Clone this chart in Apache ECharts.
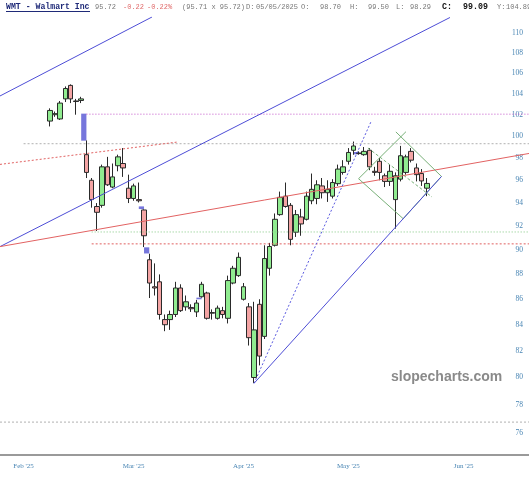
<!DOCTYPE html>
<html><head><meta charset="utf-8">
<script src="https://cdn.jsdelivr.net/npm/echarts@6/dist/echarts.min.js"></script>
<style>html,body{margin:0;padding:0;background:#fff}#c{width:529px;height:480px}</style>
</head><body><div id="c"></div>
<script>
// ---- categories (trading days) ----
const padBefore = ['01-28','01-29','01-30','01-31','02-03','02-04','02-05','02-06','02-07'];
const tradeDates = ['02-10','02-11','02-12','02-13','02-14','02-18','02-19','02-20','02-21','02-24','02-25','02-26','02-27','02-28',
 '03-03','03-04','03-05','03-06','03-07','03-10','03-11','03-12','03-13','03-14','03-17','03-18','03-19','03-20','03-21','03-24','03-25','03-26','03-27','03-28','03-31',
 '04-01','04-02','04-03','04-04','04-07','04-08','04-09','04-10','04-11','04-14','04-15','04-16','04-17','04-21','04-22','04-23','04-24','04-25','04-28','04-29','04-30',
 '05-01','05-02','05-05','05-06','05-07','05-08','05-09','05-12','05-13','05-14','05-15','05-16','05-19','05-20','05-21','05-22','05-23'];
const padAfter = ['05-27','05-28','05-29','05-30','06-02','06-03','06-04','06-05','06-06','06-09','06-10','06-11','06-12','06-13','06-16','06-17','06-18','06-20','06-23'];

// ---- OHLC ----
const opens  = [101.4,102.0,101.6,103.5,104.8,103.3,103.35,98.3,96.0,93.7,93.8,97.2,95.4,97.3,
 97.5,95.3,94.4,94.3,93.4,89.2,87.0,87.4,84.4,84.4,84.8,86.9,85.4,85.35,85.0,86.2,86.5,84.9,84.5,85.1,84.5,
 87.3,87.9,86.0,85.4,80.0,85.6,83.1,88.5,90.4,93.0,94.6,93.8,91.5,92.8,92.6,94.2,94.4,95.5,94.9,94.6,95.7,
 96.7,97.7,98.70,98.45,98.3,98.7,96.8,97.7,96.4,95.9,94.3,96.1,96.7,98.6,97.1,96.6,95.3];
const closes = [102.4,102.1,103.1,104.5,103.5,103.25,103.5,96.7,94.3,93.2,97.2,95.6,96.3,98.1,
 97.1,94.4,95.5,94.2,91.2,87.3,86.9,84.8,84.0,84.8,86.9,85.1,85.8,85.25,85.7,87.2,84.5,84.95,85.3,84.8,87.5,
 88.5,89.4,87.0,83.0,83.6,81.6,89.3,90.3,92.6,94.5,93.7,90.9,93.0,92.2,94.6,95.2,95.6,94.9,95.2,95.8,97.0,
 97.2,98.5,99.09,98.4,98.6,97.2,96.7,96.7,95.9,96.8,96.4,98.2,98.1,97.8,96.5,95.94,95.72];
const lows   = [100.9,101.8,101.5,103.2,103.1,102.0,103.1,96.2,93.6,91.6,93.6,95.5,95.3,96.8,
 96.3,94.0,94.2,94.05,90.25,86.1,86.3,84.4,83.5,83.6,84.6,85.0,85.1,85.0,84.6,86.13,84.4,84.4,84.4,84.5,84.1,
 87.2,87.8,85.9,82.4,79.6,80.9,82.9,87.9,90.3,92.9,93.6,90.4,91.1,91.2,92.5,93.9,93.9,94.4,94.1,94.4,95.5,
 96.5,97.4,98.29,98.3,98.2,96.9,96.4,96.0,95.4,95.5,91.8,95.9,96.5,97.6,95.9,95.5,94.6];
const highs  = [102.6,102.3,103.3,104.7,104.9,103.5,103.7,99.6,96.2,94.0,97.4,98.1,97.5,98.3,
 98.9,96.5,95.7,95.8,93.45,89.7,88.9,88.0,84.8,85.1,87.4,87.2,86.3,85.6,85.95,87.4,86.6,85.2,85.5,85.4,87.9,
 88.7,89.8,87.3,85.7,85.8,86.0,90.4,90.6,93.1,95.0,95.8,94.0,93.4,93.5,95.0,96.6,96.0,96.2,96.0,96.1,97.4,
 97.8,98.9,99.50,98.6,99.0,98.9,97.2,98.0,96.6,97.4,96.7,99.1,98.3,98.9,97.5,97.0,96.2];

// ---- unfilled gaps ----
const gapFromDates = ['02-19','03-06','03-07','03-21','05-05'];
const gapToDates   = ['02-20','03-07','03-10','03-24','05-06'];
const gapLows  = [99.58,93.48,89.72,86.0,98.33];
const gapHighs = [102.1,93.71,90.23,86.13,98.54];

// ---- drawn studies: [bar index, price] ----
const channelUpper = [[-0.5,103.78],[28.52,111.64]];
const channelLower = [[-0.5,90.29],[85.41,111.59]];
const redTrend     = [[-0.5,90.29],[100.5,98.41]];
const redDotTrend  = [[-0.5,97.42],[33.48,99.46]];
const blueFan      = [[48,79.57],[70.33,101.34]];
const blueSupport  = [[48,79.57],[83.79,96.34]];
const diamondUL    = [[67.96,96.14],[77.01,100.41]];
const diamondUR    = [[83.79,96.34],[75.08,100.39]];
const diamondLL    = [[67.96,96.14],[76.48,92.65]];
const diamondLR    = [[76.48,92.65],[83.79,96.34]];
const diamondMid   = [[69.75,98.91],[81.97,94.53]];
const levelGray1   = [[4,99.3],[100.5,99.3]];
const levelMagenta = [[16,102.05],[100.5,102.05]];
const levelGreen   = [[17,91.52],[100.5,91.52]];
const levelRed     = [[17,90.52],[100.5,90.52]];
const levelGray2   = [[-0.5,76.77],[100.5,76.77]];

// ---- axis labels ----
const yTickValues = [76,78,80,82,84,86,88,90,92,94,96,98,100,102,104,106,108,110];
const monthTickDates  = ['02-03','03-05','04-03','05-02','06-04'];
const monthTickLabels = ["Feb '25","Mar '25","Apr '25","May '25","Jun '25"];

const allDates = padBefore.concat(tradeDates, padAfter);
const idx = d => allDates.indexOf(d);

const candleData = tradeDates.map((d,k)=>[d, opens[k], closes[k], lows[k], highs[k]]);
const gapData = gapFromDates.map((d,i)=>[idx(d), idx(gapToDates[i]), gapLows[i], gapHighs[i]]);

function seg(data, color, type, width){
  return {type:'line', xAxisIndex:1, yAxisIndex:0, data:data, showSymbol:false, symbol:'none', silent:true, z:5,
    lineStyle:{color:color, width:width||1, type:type||'solid'}, clip:true, animation:false};
}

const labelColor = '#4a86b4';
const chart = echarts.init(document.getElementById('c'), null, {renderer:'canvas', width:529, height:480});
const hdrGray = '#777', hdrRed = '#e06a6a';
const monoFont = '"Liberation Mono", monospace';
function ht(text, x, fill, bold, size){
  return {type:'text', x:x, y:7, silent:true, style:{text:text, fill:fill, align:'left', verticalAlign:'middle',
    font:(bold?'bold ':'')+(size||7)+'px '+monoFont}};
}
chart.setOption({
  animation:false,
  backgroundColor:'#fff',
  grid:{left:0, right:0, top:17, bottom:25, containLabel:false},
  xAxis:[
    {type:'category', data:allDates, boundaryGap:true,
     axisLine:{show:true, lineStyle:{color:'#9a9a9a', width:2}},
     axisTick:{show:false}, splitLine:{show:false},
     axisLabel:{interval:(i,v)=>monthTickDates.indexOf(v)>=0, formatter:v=>monthTickLabels[monthTickDates.indexOf(v)]||'',
       color:labelColor, fontSize:7, fontFamily:'"Liberation Serif", serif', margin:8, hideOverlap:false}},
    {type:'value', min:-0.5, max:100.5, show:false}
  ],
  yAxis:[{type:'log', logBase:10, min:74.47, max:111.64, position:'right', scale:true,
    splitLine:{show:false}, axisLine:{show:false}, axisTick:{show:false},
    axisLabel:{inside:true, margin:6, customValues:yTickValues, color:labelColor, fontSize:7.5,
      fontFamily:'"Liberation Serif", serif', formatter:v=>String(Math.round(v))}}],
  graphic:[
    ht('WMT - Walmart Inc', 6, '#1f2a78', true, 8.2),
    {type:'line', silent:true, shape:{x1:6, y1:11.5, x2:90, y2:11.5}, style:{stroke:'#1f2a78', lineWidth:1}},
    ht('95.72', 95, hdrGray), ht('-0.22', 123, hdrRed), ht('-0.22%', 147, hdrRed),
    ht('(95.71 x 95.72)', 182, hdrGray), ht('D:', 246, hdrGray), ht('05/05/2025', 256, hdrGray),
    ht('O:', 301, hdrGray), ht('98.70', 320, hdrGray), ht('H:', 350, hdrGray), ht('99.50', 368, hdrGray),
    ht('L:', 396, hdrGray), ht('98.29', 410, hdrGray), ht('C:', 442, '#111', true, 8.3), ht('99.09', 463, '#111', true, 8.3),
    ht('Y:', 497, hdrGray), ht('104.89', 506, hdrGray),
    {type:'text', x:391, y:377, silent:true, z:1, style:{text:'slopecharts.com', fill:'#8a8a8a', align:'left', verticalAlign:'middle',
      font:'bold 14px "Liberation Sans", Arial, sans-serif'}}
  ],
  series:[
    seg(levelGray1, '#b0b0b0', [2,2]),
    seg(levelMagenta, '#c050c8', [1,2]),
    seg(levelGreen, '#80c880', [1,2]),
    seg(levelRed, '#e06060', [2,2]),
    seg(levelGray2, '#b0b0b0', [2,2]),
    {type:'custom', xAxisIndex:1, yAxisIndex:0, data:gapData, silent:true, z:3, encode:{x:[0,1], y:[2,3]},
     renderItem:(params, api)=>{
       const p0 = api.coord([api.value(0), api.value(3)]);
       const p1 = api.coord([api.value(1), api.value(2)]);
       return {type:'rect', shape:{x:p0[0], y:p0[1], width:p1[0]-p0[0], height:Math.max(1.5,p1[1]-p0[1])}, style:{fill:'#7676dc'}};
     }},
    {type:'candlestick', xAxisIndex:0, yAxisIndex:0, data:candleData, encode:{x:0, y:[1,2,3,4]}, barWidth:5, z:4,
     itemStyle:{color:'#90ec90', color0:'#f4a4a4', borderColor:'#2a2a2a', borderColor0:'#2a2a2a', borderColorDoji:'#2a2a2a', borderWidth:1}},
    seg(channelUpper, '#4d4dd6'),
    seg(channelLower, '#4d4dd6'),
    seg(redTrend, '#e26262'),
    seg(redDotTrend, '#e06060', [2,2]),
    seg(blueFan, '#5a5ae0', [2,2]),
    seg(diamondUL, '#78b078'),
    seg(diamondUR, '#78b078'),
    seg(diamondLL, '#78b078'),
    seg(diamondLR, '#78b078'),
    seg(diamondMid, '#78b078', [3,2]),
    seg(blueSupport, '#4d4dd6')
  ]
});
</script></body></html>
